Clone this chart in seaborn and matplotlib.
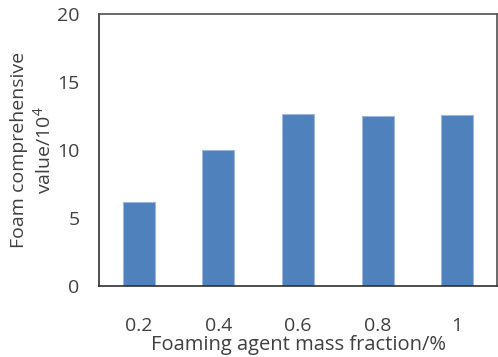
import matplotlib
matplotlib.use("Agg")
import matplotlib.pyplot as plt
import seaborn as sns
import pandas as pd

categories = ["0.2", "0.4", "0.6", "0.8", "1"]
values = [6.2, 10.0, 12.67, 12.48, 12.55]
y_ticks = [0, 5, 10, 15, 20]

sns.set_theme(style="white")
plt.rcParams["font.family"] = ["Open Sans", "DejaVu Sans"]
plt.rcParams["mathtext.fontset"] = "custom"
plt.rcParams["mathtext.rm"] = "Open Sans"

df = pd.DataFrame({"fraction": categories, "value": values})

fig = plt.figure(figsize=(4.98, 3.57), dpi=100)
ax = fig.add_axes([99 / 498, 1 - 286 / 357, 398 / 498, 272 / 357])

sns.barplot(data=df, x="fraction", y="value", ax=ax, color="#4F81BD",
            saturation=1, width=0.4, edgecolor="#9DB7DD", linewidth=0.8)

ax.set_ylim(0, 20)
ax.set_yticks(y_ticks)
ax.set_xlim(-0.5, len(categories) - 0.5)

text_color = "#404040"
fs = 14
ax.tick_params(axis="y", direction="in", length=8, width=1, color="#404040",
               labelsize=fs, labelcolor=text_color, pad=14)
ax.tick_params(axis="x", length=0, labelsize=fs, labelcolor=text_color, pad=22)

for side in ["left", "bottom"]:
    ax.spines[side].set_color("#303030")
    ax.spines[side].set_linewidth(1.2)
for side in ["top", "right"]:
    ax.spines[side].set_color("#505050")
    ax.spines[side].set_linewidth(1.2)

ax.set_xlabel("Foaming agent mass fraction/%", fontsize=14.5, color=text_color, labelpad=0)
ax.set_ylabel("Foam comprehensive\nvalue/10$\\mathregular{^4}$", fontsize=fs,
              color=text_color, labelpad=2, linespacing=1.25)

fig.savefig("out.png", dpi=100)
